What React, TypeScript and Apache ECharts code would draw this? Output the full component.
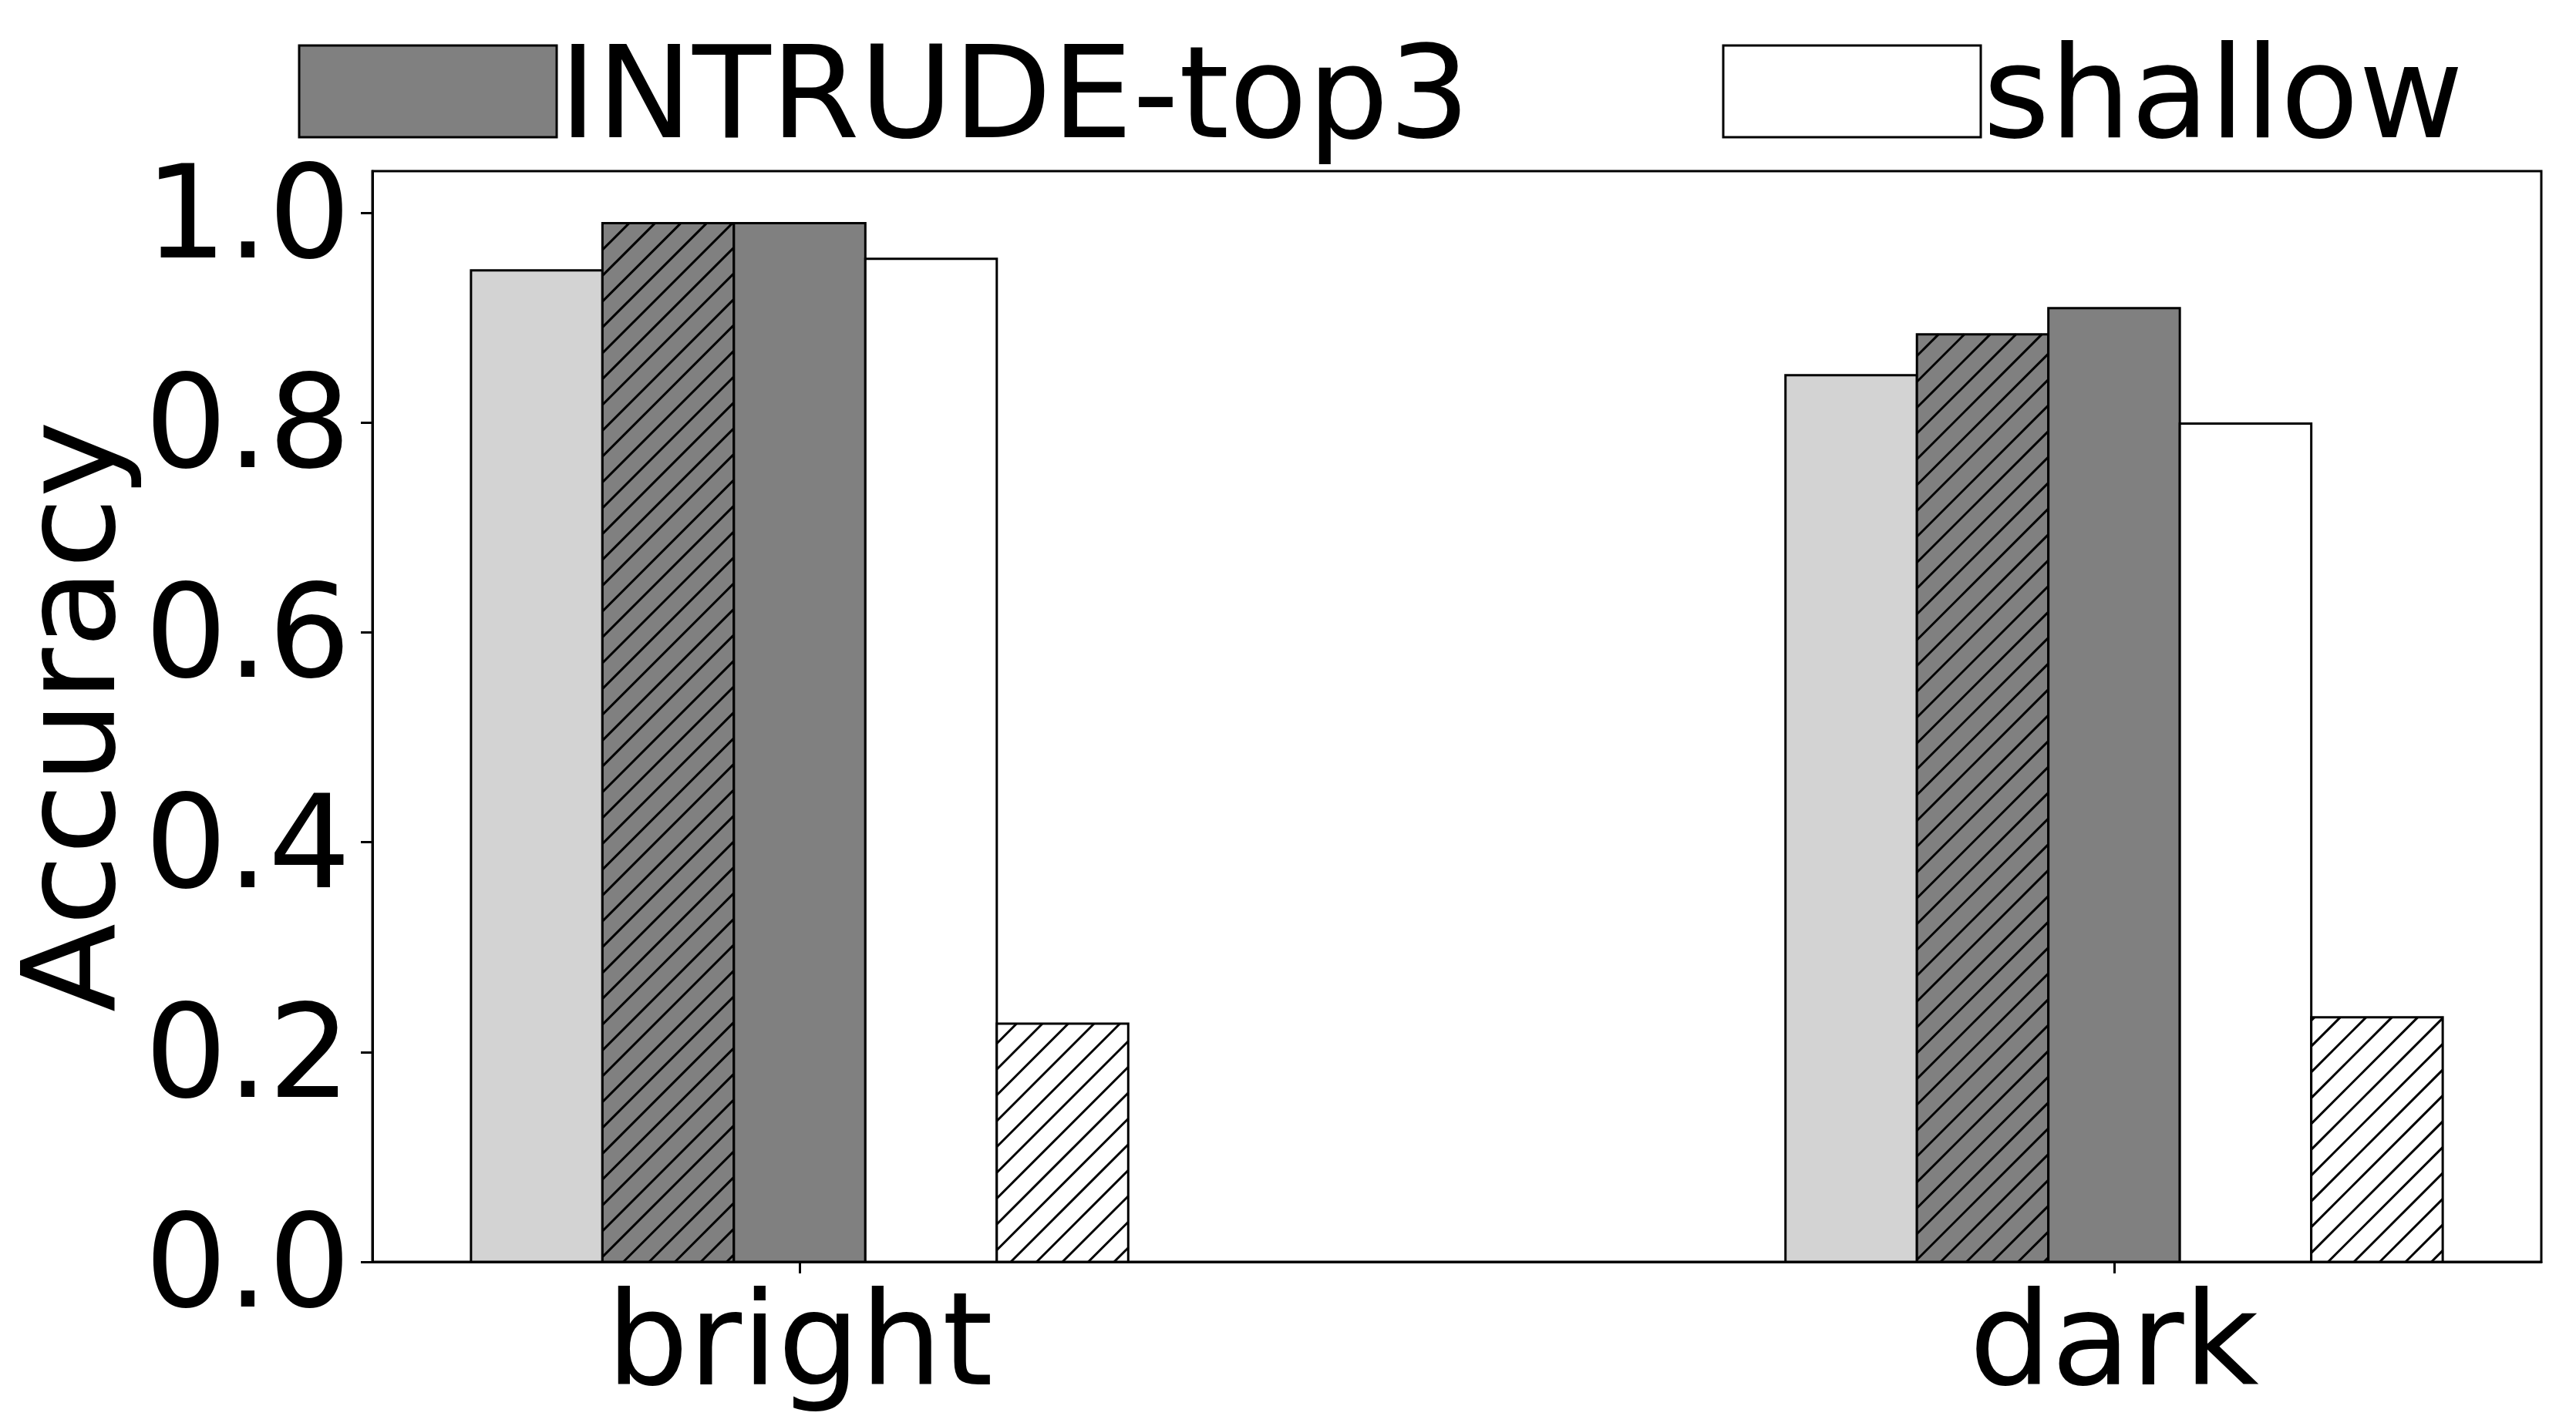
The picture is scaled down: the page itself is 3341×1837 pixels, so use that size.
import React, { useEffect, useRef } from "react";
import * as echarts from "echarts";

// ---- data ----
const categories = ["bright", "dark"];
const seriesNames = ["series-1", "series-2", "INTRUDE-top3", "shallow", "series-5"];
const lightGrayValues = [0.945, 0.845];
const hatchedGrayValues = [0.99, 0.884];
const intrudeTop3Values = [0.99, 0.909];
const shallowValues = [0.956, 0.799];
const hatchedWhiteValues = [0.227, 0.233];
const yTickValues = [0, 0.2, 0.4, 0.6, 0.8, 1.0];
const xTickValues = [0, 1];
const legendNames = ["INTRUDE-top3", "shallow"];

const FONT = "DejaVu Sans";
const BAR_W = 0.1;
const HATCH = 33.5;

function makeRender(offset: number, fill: string, hatched: boolean) {
  return (_params: any, api: any) => {
    const x = api.value(0) + offset;
    const v = api.value(1);
    const p1 = api.coord([x - BAR_W / 2, v]);
    const p2 = api.coord([x + BAR_W / 2, 0]);
    const xl = p1[0], yt = p1[1], xr = p2[0], yb = p2[1];
    const shape = { x: xl, y: yt, width: xr - xl, height: yb - yt };
    const children: any[] = [{ type: "rect", shape, style: { fill, stroke: "none" } }];
    if (hatched) {
      const cMin = xl + yt;
      const cMax = xr + yb;
      for (let c = Math.ceil(cMin / HATCH) * HATCH; c <= cMax; c += HATCH) {
        const xa = Math.max(xl, c - yb);
        const xb = Math.min(xr, c - yt);
        if (xb > xa) {
          children.push({
            type: "line",
            shape: { x1: xa, y1: c - xa, x2: xb, y2: c - xb },
            style: { stroke: "#000", lineWidth: 3 },
          });
        }
      }
    }
    children.push({ type: "rect", shape, style: { fill: "none", stroke: "#000", lineWidth: 3 } });
    return { type: "group", children };
  };
}

export default function App() {
  const ref = useRef<HTMLDivElement>(null);
  useEffect(() => {
    if (!ref.current) return;
    const chart = echarts.init(ref.current, undefined, { renderer: "svg" });
    const valueSets = [lightGrayValues, hatchedGrayValues, intrudeTop3Values, shallowValues, hatchedWhiteValues];
    const fills = ["#d3d3d3", "#808080", "#808080", "#ffffff", "#ffffff"];
    const hatches = [false, true, false, false, true];
    const offsets = [-0.2, -0.1, 0, 0.1, 0.2];
    const series = valueSets.map((vals, k) => ({
      type: "custom",
      name: seriesNames[k],
      itemStyle: { color: fills[k], borderColor: "#000", borderWidth: 3 },
      renderItem: makeRender(offsets[k], fills[k], hatches[k]),
      data: categories.map((_, i) => [i, vals[i]]),
      z: 2,
    }));

    // legend drawn as graphic elements (box + label)
    const legendBoxX = [388, 2235];
    const legendBoxW = 334;
    const legendBoxTop = 59;
    const legendBoxH = 119;
    const legendGraphics: any[] = [];
    legendNames.forEach((n, i) => {
      const k = seriesNames.indexOf(n);
      legendGraphics.push({
        type: "rect",
        shape: { x: legendBoxX[i], y: legendBoxTop, width: legendBoxW, height: legendBoxH },
        style: { fill: fills[k], stroke: "#000", lineWidth: 3 },
        z: 10,
      });
      legendGraphics.push({
        type: "text",
        x: legendBoxX[i] + legendBoxW + 3,
        y: 178 - 0.346 * 166,
        style: {
          text: n,
          font: `166px "${FONT}"`,
          fill: "#000",
          textAlign: "left",
          textVerticalAlign: "middle",
        },
        z: 10,
      });
    });

    chart.setOption({
      animation: false,
      backgroundColor: "#ffffff",
      textStyle: { fontFamily: FONT },
      graphic: legendGraphics,
      grid: {
        left: 483,
        right: 45,
        top: 222,
        bottom: 200,
        show: true,
        borderColor: "#000",
        borderWidth: 3,
        backgroundColor: "transparent",
        containLabel: false,
        outerBoundsMode: "none",
      },
      xAxis: {
        type: "value",
        min: -0.325,
        max: 1.325,
        splitLine: { show: false },
        axisLine: { show: true, onZero: false, lineStyle: { color: "#000", width: 3 } },
        axisTick: { show: true, customValues: xTickValues, length: 15, lineStyle: { color: "#000", width: 3 } },
        axisLabel: {
          customValues: xTickValues,
          formatter: (v: number) => categories[Math.round(v)] ?? "",
          fontSize: 168,
          color: "#000",
          fontFamily: FONT,
          margin: 17,
        },
      },
      yAxis: {
        type: "value",
        min: 0,
        max: 1.0395,
        name: "Accuracy",
        nameLocation: "middle",
        nameGap: 318,
        nameTextStyle: { fontSize: 168, lineHeight: 150, color: "#000", fontFamily: FONT },
        splitLine: { show: false },
        axisLine: { show: true, onZero: false, lineStyle: { color: "#000", width: 3 } },
        axisTick: { show: true, customValues: yTickValues, length: 15, lineStyle: { color: "#000", width: 3 } },
        axisLabel: {
          customValues: yTickValues,
          formatter: (v: number) => v.toFixed(1),
          fontSize: 168,
          color: "#000",
          fontFamily: FONT,
          margin: 28,
        },
      },
      series,
    });
    return () => chart.dispose();
  }, []);
  return (
    <div
      ref={ref}
      style={{ position: "fixed", left: 0, top: 0, width: 3341, height: 1837, background: "#fff" }}
    />
  );
}
